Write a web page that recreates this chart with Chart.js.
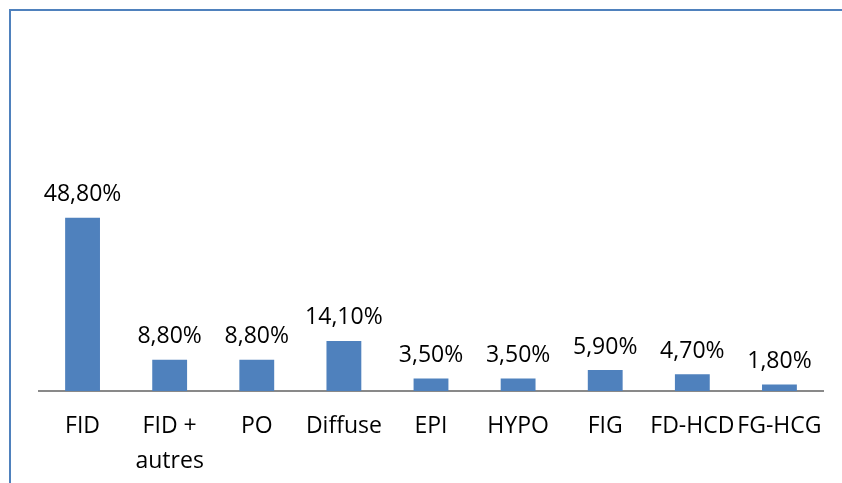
<!DOCTYPE html>
<html>
<head>
<meta charset="utf-8">
<script src="https://cdn.jsdelivr.net/npm/chart.js@4"></script>
<style>
  html, body { margin: 0; padding: 0; background: #fff; }
  #wrap { position: relative; width: 842px; height: 483px; overflow: hidden; }
  #frame { position: absolute; left: 9px; top: 9px; right: -5px; bottom: -5px;
           border-left: 2px solid #4f81bd; border-top: 2px solid #4f81bd; }
  canvas { position: absolute; left: 0; top: 0; }
</style>
</head>
<body>
<div id="wrap">
  <canvas id="barChart" width="842" height="483"></canvas>
  <div id="frame"></div>
</div>
<script>
/* diagramme en barres - localisation */

const BAR_COLOR = "#4f81bd";
const AXIS_COLOR = "#898989";
const FONT = "'Open Sans', sans-serif";

const categories = ['FID', ['FID +', 'autres'], 'PO', 'Diffuse', 'EPI', 'HYPO', 'FIG', 'FD-HCD', 'FG-HCG'];
const percentValues = [48.8, 8.8, 8.8, 14.1, 3.5, 3.5, 5.9, 4.7, 1.8];

function formatPct(v) {
  return v.toFixed(2).replace('.', ',') + '%';
}

// étiquettes de données au-dessus des barres
const valueLabels = {
  id: 'valueLabels',
  afterDatasetsDraw(chart) {
    const ctx = chart.ctx;
    const meta = chart.getDatasetMeta(0);
    ctx.save();
    ctx.font = "23px " + FONT;
    ctx.fillStyle = '#000';
    ctx.textAlign = 'center';
    ctx.textBaseline = 'middle';
    meta.data.forEach((bar, i) => {
      ctx.fillText(formatPct(percentValues[i]), bar.x, bar.y - 23);
    });
    ctx.restore();
  }
};

const barChart = new Chart(document.getElementById('barChart').getContext('2d'), {
  type: 'bar',
  data: {
    labels: categories,
    datasets: [{
      data: percentValues,
      backgroundColor: BAR_COLOR,
      categoryPercentage: 1,
      barPercentage: 0.4
    }]
  },
  options: {
    responsive: false,
    animation: false,
    layout: { padding: { left: 39, right: 19, top: 178, bottom: -14 } },
    plugins: {
      legend: { display: false },
      tooltip: { enabled: false }
    },
    scales: {
      x: {
        grid: { display: false, drawTicks: false },
        border: { color: AXIS_COLOR, width: 2 },
        ticks: {
          color: '#000',
          padding: 19,
          maxRotation: 0,
          autoSkip: false,
          font: { family: FONT, size: 23, lineHeight: 1.48 }
        }
      },
      y: {
        display: false,
        min: 0,
        max: 60
      }
    }
  },
  plugins: [valueLabels]
});
</script>
</body>
</html>
